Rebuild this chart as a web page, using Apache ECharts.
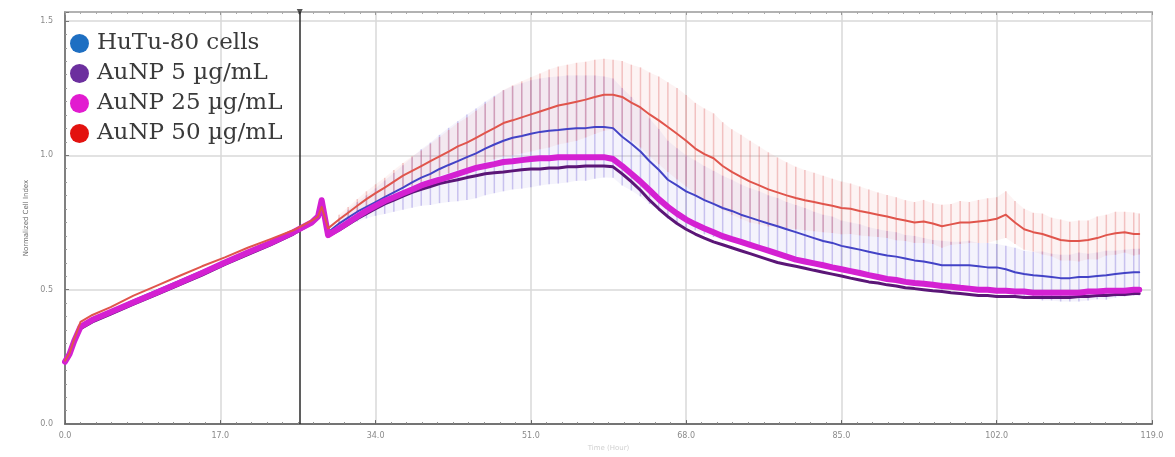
<!DOCTYPE html>
<html>
<head>
<meta charset="utf-8">
<title>Normalized Cell Index</title>
<script src="https://cdn.jsdelivr.net/npm/echarts@6/dist/echarts.min.js"></script>
<style>
  html, body { margin: 0; padding: 0; background: #ffffff; }
  #chart { width: 1175px; height: 457px; }
</style>
</head>
<body>
<div id="chart"></div>
<script>
// Time points (hours)
const TIME = [
  0, 0.5, 1, 1.7, 3, 5, 7.5, 10, 12.5, 15, 17.5, 20, 22.5, 25, 27, 27.7, 28.1, 28.8,
  30, 31, 32, 33, 34, 35, 36, 37, 38, 39,
  40, 41, 42, 43, 44, 45, 46, 47, 48, 49,
  50, 51, 52, 53, 54, 55, 56, 57, 58, 59,
  60, 61, 62, 63, 64, 65, 66, 67, 68, 69,
  70, 71, 72, 73, 74, 75, 76, 77, 78, 79,
  80, 81, 82, 83, 84, 85, 86, 87, 88, 89,
  90, 91, 92, 93, 94, 95, 96, 97, 98, 99,
  100, 101, 102, 103, 104, 105, 106, 107, 108, 109,
  110, 111, 112, 113, 114, 115, 116, 117, 117.6
];

// Normalized cell index, control cells
const HUTU = [
  0.232, 0.257, 0.308, 0.366, 0.391, 0.420, 0.460, 0.496, 0.533, 0.569, 0.605, 0.641, 0.678, 0.714, 0.754, 0.772, 0.822, 0.714,
  0.746, 0.768, 0.790, 0.808, 0.826, 0.844, 0.862, 0.880, 0.899, 0.917,
  0.931, 0.949, 0.964, 0.978, 0.993, 1.007, 1.025, 1.040, 1.054, 1.065,
  1.072, 1.080, 1.087, 1.091, 1.094, 1.098, 1.101, 1.101, 1.105, 1.105,
  1.101, 1.069, 1.043, 1.014, 0.978, 0.946, 0.909, 0.888, 0.866, 0.851,
  0.833, 0.819, 0.804, 0.793, 0.779, 0.768, 0.757, 0.746, 0.736, 0.725,
  0.714, 0.703, 0.692, 0.681, 0.674, 0.663, 0.656, 0.649, 0.641, 0.634,
  0.627, 0.623, 0.616, 0.609, 0.605, 0.598, 0.591, 0.591, 0.591, 0.591,
  0.587, 0.583, 0.583, 0.576, 0.565, 0.558, 0.554, 0.551, 0.547, 0.543,
  0.543, 0.547, 0.547, 0.551, 0.554, 0.558, 0.562, 0.565, 0.565
];
const HUTU_ERR = [
  0, 0, 0, 0, 0, 0, 0, 0, 0, 0, 0, 0, 0, 0, 0, 0, 0, 0,
  0.022, 0.029, 0.036, 0.043, 0.051, 0.062, 0.072, 0.083, 0.094, 0.105,
  0.116, 0.127, 0.138, 0.149, 0.159, 0.167, 0.174, 0.181, 0.188, 0.192,
  0.196, 0.199, 0.199, 0.199, 0.199, 0.199, 0.196, 0.196, 0.192, 0.188,
  0.185, 0.181, 0.174, 0.167, 0.159, 0.152, 0.145, 0.138, 0.134, 0.130,
  0.127, 0.123, 0.120, 0.116, 0.112, 0.109, 0.109, 0.105, 0.105, 0.101,
  0.101, 0.101, 0.098, 0.098, 0.098, 0.094, 0.094, 0.094, 0.091, 0.091,
  0.091, 0.091, 0.087, 0.091, 0.087, 0.087, 0.091, 0.087, 0.087, 0.091,
  0.087, 0.091, 0.087, 0.087, 0.091, 0.087, 0.087, 0.091, 0.087, 0.087,
  0.087, 0.091, 0.087, 0.087, 0.091, 0.087, 0.087, 0.087, 0.087
];

// AuNP 5 µg/mL
const AUNP5 = [
  0.228, 0.254, 0.301, 0.355, 0.380, 0.409, 0.446, 0.482, 0.518, 0.554, 0.594, 0.630, 0.667, 0.707, 0.746, 0.768, 0.815, 0.699,
  0.721, 0.743, 0.764, 0.783, 0.801, 0.819, 0.833, 0.848, 0.862, 0.873,
  0.884, 0.895, 0.902, 0.909, 0.917, 0.924, 0.931, 0.935, 0.938, 0.942,
  0.946, 0.949, 0.949, 0.953, 0.953, 0.957, 0.957, 0.960, 0.960, 0.960,
  0.957, 0.931, 0.902, 0.870, 0.833, 0.801, 0.772, 0.746, 0.725, 0.707,
  0.692, 0.678, 0.667, 0.656, 0.645, 0.634, 0.623, 0.612, 0.601, 0.594,
  0.587, 0.580, 0.572, 0.565, 0.558, 0.551, 0.543, 0.536, 0.529, 0.525,
  0.518, 0.514, 0.507, 0.504, 0.500, 0.496, 0.493, 0.489, 0.486, 0.482,
  0.478, 0.478, 0.475, 0.475, 0.475, 0.471, 0.471, 0.471, 0.471, 0.471,
  0.471, 0.475, 0.475, 0.478, 0.478, 0.482, 0.482, 0.486, 0.486
];

// AuNP 25 µg/mL
const AUNP25 = [
  0.232, 0.261, 0.308, 0.362, 0.388, 0.417, 0.453, 0.489, 0.525, 0.562, 0.601, 0.638, 0.674, 0.714, 0.750, 0.772, 0.833, 0.703,
  0.728, 0.750, 0.772, 0.793, 0.812, 0.830, 0.844, 0.859, 0.873, 0.888,
  0.899, 0.909, 0.920, 0.931, 0.942, 0.953, 0.960, 0.967, 0.975, 0.978,
  0.982, 0.986, 0.989, 0.989, 0.993, 0.993, 0.993, 0.993, 0.993, 0.993,
  0.986, 0.960, 0.931, 0.902, 0.870, 0.837, 0.808, 0.783, 0.761, 0.743,
  0.728, 0.714, 0.699, 0.688, 0.678, 0.667, 0.656, 0.645, 0.634, 0.623,
  0.612, 0.605, 0.598, 0.591, 0.583, 0.576, 0.569, 0.562, 0.554, 0.547,
  0.540, 0.536, 0.529, 0.525, 0.522, 0.518, 0.514, 0.511, 0.507, 0.504,
  0.500, 0.500, 0.496, 0.496, 0.493, 0.493, 0.489, 0.489, 0.489, 0.489,
  0.489, 0.489, 0.493, 0.493, 0.496, 0.496, 0.496, 0.500, 0.500
];

// AuNP 50 µg/mL
const AUNP50 = [
  0.236, 0.264, 0.315, 0.380, 0.406, 0.435, 0.478, 0.514, 0.551, 0.587, 0.620, 0.656, 0.688, 0.721, 0.757, 0.772, 0.808, 0.728,
  0.761, 0.786, 0.812, 0.837, 0.859, 0.880, 0.902, 0.924, 0.942, 0.960,
  0.978, 0.996, 1.014, 1.033, 1.047, 1.065, 1.083, 1.101, 1.120, 1.130,
  1.141, 1.152, 1.163, 1.174, 1.185, 1.192, 1.199, 1.207, 1.217, 1.225,
  1.225, 1.217, 1.196, 1.178, 1.152, 1.130, 1.105, 1.080, 1.054, 1.025,
  1.004, 0.989, 0.960, 0.938, 0.920, 0.902, 0.888, 0.873, 0.862, 0.851,
  0.841, 0.833, 0.826, 0.819, 0.812, 0.804, 0.801, 0.793, 0.786, 0.779,
  0.772, 0.764, 0.757, 0.750, 0.754, 0.746, 0.736, 0.743, 0.750, 0.750,
  0.754, 0.757, 0.764, 0.779, 0.750, 0.725, 0.714, 0.707, 0.696, 0.685,
  0.681, 0.681, 0.685, 0.692, 0.703, 0.710, 0.714, 0.707, 0.707
];
const AUNP50_ERR = [
  0, 0, 0, 0, 0, 0, 0, 0, 0, 0, 0, 0, 0, 0, 0, 0, 0, 0,
  0.018, 0.022, 0.025, 0.029, 0.033, 0.036, 0.043, 0.047, 0.054, 0.058,
  0.065, 0.072, 0.080, 0.087, 0.094, 0.101, 0.109, 0.116, 0.123, 0.130,
  0.134, 0.138, 0.141, 0.145, 0.145, 0.145, 0.145, 0.141, 0.138, 0.134,
  0.130, 0.134, 0.141, 0.149, 0.156, 0.163, 0.167, 0.170, 0.170, 0.170,
  0.170, 0.167, 0.163, 0.159, 0.156, 0.152, 0.145, 0.138, 0.130, 0.123,
  0.116, 0.112, 0.109, 0.105, 0.101, 0.098, 0.094, 0.091, 0.087, 0.083,
  0.080, 0.080, 0.076, 0.076, 0.080, 0.076, 0.080, 0.076, 0.080, 0.076,
  0.080, 0.083, 0.080, 0.087, 0.080, 0.076, 0.072, 0.076, 0.072, 0.076,
  0.072, 0.076, 0.072, 0.080, 0.076, 0.080, 0.076, 0.080, 0.076
];

// Axis ranges and ticks
const X_MIN = 0, X_MAX = 119, X_STEP = 17;
const Y_MIN = 0, Y_MAX = 1.533, Y_STEP = 0.5;
const TREATMENT_TIME = 25.7;   // time of nanoparticle addition

const SERIES_NAMES = ['HuTu-80 cells', 'AuNP 5 µg/mL', 'AuNP 25 µg/mL', 'AuNP 50 µg/mL'];
const LEGEND_COLORS = ['#1e6fc2', '#6c2f9e', '#e21bd0', '#e3120f'];

const pairs = (vals) => TIME.map((t, i) => [t, vals[i]]);

// vertical SD whiskers at each time point
function errorBars(name, vals, errs, color) {
  const data = [];
  TIME.forEach((t, i) => {
    if (errs[i] > 0) data.push([t, vals[i] - errs[i], vals[i] + errs[i]]);
  });
  return {
    type: 'custom',
    name: name,
    silent: true,
    z: 1,
    data: data,
    encode: { x: 0, y: [1, 2] },
    renderItem: function (params, api) {
      const lo = api.coord([api.value(0), api.value(1)]);
      const hi = api.coord([api.value(0), api.value(2)]);
      return {
        type: 'line',
        shape: { x1: lo[0], y1: lo[1], x2: hi[0], y2: hi[1] },
        style: { stroke: color, lineWidth: 1.5 }
      };
    }
  };
}

// faint SD envelope, one quad per pair of neighbouring time points
function errorBand(name, vals, errs, color) {
  const data = [];
  for (let i = 0; i + 1 < TIME.length; i++) {
    if (errs[i] > 0 && errs[i + 1] > 0) {
      data.push([TIME[i], vals[i] - errs[i], vals[i] + errs[i],
                 TIME[i + 1], vals[i + 1] - errs[i + 1], vals[i + 1] + errs[i + 1]]);
    }
  }
  return {
    type: 'custom',
    name: name,
    silent: true,
    z: 0,
    data: data,
    encode: { x: [0, 3], y: [1, 2, 4, 5] },
    renderItem: function (params, api) {
      const a = api.coord([api.value(0), api.value(1)]);
      const b = api.coord([api.value(0), api.value(2)]);
      const c = api.coord([api.value(3), api.value(5)]);
      const d = api.coord([api.value(3), api.value(4)]);
      return {
        type: 'polygon',
        shape: { points: [a, b, c, d] },
        style: { fill: color, stroke: null }
      };
    }
  };
}

function line(name, vals, color, width, z) {
  return {
    type: 'line',
    name: name,
    data: pairs(vals),
    showSymbol: false,
    symbol: 'none',
    smooth: false,
    z: z,
    lineStyle: { color: color, width: width, join: 'round', cap: 'round' },
    itemStyle: { color: color }
  };
}

const tickLabel = { fontSize: 8, color: '#8a8a8a', fontFamily: 'DejaVu Sans' };

const chart = echarts.init(document.getElementById('chart'), null, { renderer: 'canvas' });

chart.setOption({
  animation: false,
  backgroundColor: '#ffffff',
  grid: {
    left: 65, right: 23, top: 12, bottom: 22,
    show: true, borderColor: '#a0a0a0', borderWidth: 1.5
  },
  legend: {
    orient: 'vertical',
    left: 65, top: 27,
    icon: 'circle',
    itemWidth: 19, itemHeight: 19, itemGap: 7,
    selectedMode: false,
    textStyle: {
      fontFamily: 'DejaVu Serif', fontSize: 23, color: '#3a3a3a',
      lineHeight: 23, padding: [0, 0, 0, 3]
    },
    data: SERIES_NAMES.map((n, i) => ({ name: n, itemStyle: { color: LEGEND_COLORS[i] } }))
  },
  xAxis: [{
    type: 'value',
    min: X_MIN, max: X_MAX, interval: X_STEP,
    name: 'Time (Hour)',
    nameLocation: 'middle', nameGap: 12,
    nameTextStyle: { fontSize: 7, color: '#d0d0d0', fontFamily: 'DejaVu Sans' },
    axisLine: { show: true, lineStyle: { color: '#555555', width: 1.5 } },
    axisTick: { show: true, inside: true, length: 4, lineStyle: { color: '#666666' } },
    minorTick: { show: true, splitNumber: 10, length: 2, lineStyle: { color: '#888888' } },
    axisLabel: { ...tickLabel, margin: 8, formatter: (v) => v.toFixed(1) },
    splitLine: { show: true, lineStyle: { color: '#d9d9d9', width: 1.5 } }
  }, {
    type: 'value',
    position: 'top',
    min: X_MIN, max: X_MAX, interval: X_STEP,
    axisLine: { show: true, lineStyle: { color: '#a8a8a8', width: 1.5 } },
    axisTick: { show: true, inside: true, length: 3, lineStyle: { color: '#999999' } },
    minorTick: { show: true, splitNumber: 10, length: 2, lineStyle: { color: '#aaaaaa' } },
    axisLabel: { show: false },
    splitLine: { show: false }
  }],
  yAxis: {
    type: 'value',
    min: Y_MIN, max: Y_MAX, interval: Y_STEP,
    name: 'Normalized Cell Index',
    nameLocation: 'middle', nameGap: 34, nameRotate: 90,
    nameTextStyle: { fontSize: 7, color: '#6a6a6a', fontFamily: 'DejaVu Sans' },
    axisLine: { show: true, lineStyle: { color: '#666666', width: 1.5 } },
    axisTick: { show: true, inside: true, length: 4, lineStyle: { color: '#777777' } },
    minorTick: { show: true, splitNumber: 10, length: 2, lineStyle: { color: '#999999' } },
    axisLabel: {
      ...tickLabel, margin: 12, showMaxLabel: false,
      formatter: (v) => (Math.abs(v / Y_STEP - Math.round(v / Y_STEP)) < 1e-6 ? v.toFixed(1) : '')
    },
    splitLine: { show: true, lineStyle: { color: '#d9d9d9', width: 1.5 } }
  },
  series: [
    errorBand('HuTu-80 cells SD band', HUTU, HUTU_ERR, 'rgba(150,140,230,0.10)'),
    errorBand('AuNP 50 µg/mL SD band', AUNP50, AUNP50_ERR, 'rgba(235,140,140,0.10)'),
    errorBars('HuTu-80 cells SD', HUTU, HUTU_ERR, 'rgba(128,112,215,0.38)'),
    errorBars('AuNP 50 µg/mL SD', AUNP50, AUNP50_ERR, 'rgba(226,118,118,0.40)'),
    line(SERIES_NAMES[0], HUTU, '#4343c6', 2, 3),
    line(SERIES_NAMES[1], AUNP5, '#5b1677', 3, 4),
    line(SERIES_NAMES[2], AUNP25, '#d421d2', 6, 5),
    Object.assign(line(SERIES_NAMES[3], AUNP50, '#e0554c', 2, 6), {
      markLine: {
        silent: true,
        symbol: ['none', 'none'],
        label: { show: false },
        lineStyle: { color: '#2a2a2a', width: 1.5, type: 'solid' },
        data: [{ xAxis: TREATMENT_TIME }]
      }
    }),
    {
      type: 'scatter',
      name: 'treatment marker',
      silent: true,
      z: 7,
      symbol: 'triangle',
      symbolRotate: 180,
      symbolSize: 6,
      itemStyle: { color: '#2a2a2a' },
      data: [[TREATMENT_TIME, Y_MAX]]
    }
  ]
});
</script>
</body>
</html>
